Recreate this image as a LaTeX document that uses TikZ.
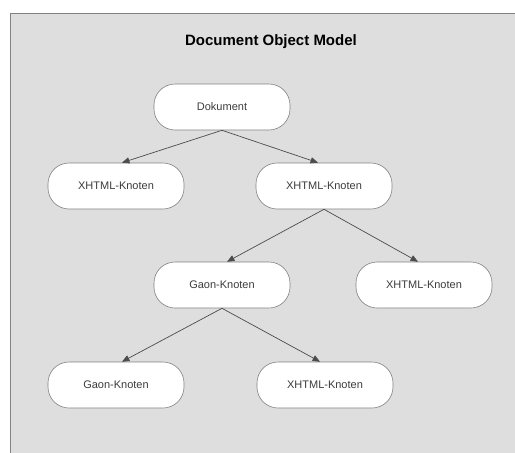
\documentclass[tikz,border=0pt]{standalone}
\usepackage{fontspec}
\setmainfont{Liberation Sans}
\usetikzlibrary{arrows}
\definecolor{panelgray}{RGB}{222,222,222}
\definecolor{framegray}{RGB}{130,130,130}
\definecolor{textgray}{RGB}{60,60,60}

\begin{document}
\begin{tikzpicture}[x=1pt,y=1pt]
  \tikzstyle{knoten}=[draw=framegray,fill=white,line width=0.6pt,rectangle,
    rounded corners=21pt,minimum width=136pt,minimum height=46pt,
    text=textgray,font=\fontsize{11}{13}\selectfont]
  \tikzstyle{kante}=[-triangle 45,draw=black!70,line width=0.7pt]

  \useasboundingbox (0,0) rectangle (515,-453);
  \fill[white] (0,0) rectangle (515,-453);
  \filldraw[fill=panelgray,draw=framegray,line width=0.8pt] (10,-13) rectangle (518,-456);

  \node [font=\fontsize{15}{17}\selectfont\bfseries] (titel) at (271,-42) {Document Object Model};

  \node [knoten] (dok) at (222,-107) {Dokument};
  \node [knoten] (xa) at (116,-186) {XHTML-Knoten};
  \node [knoten] (xb) at (324,-186) {XHTML-Knoten};
  \node [knoten] (ga) at (222,-285) {Gaon-Knoten};
  \node [knoten] (xc) at (424,-285) {XHTML-Knoten};
  \node [knoten] (gb) at (116,-385) {Gaon-Knoten};
  \node [knoten] (xd) at (325,-385) {XHTML-Knoten};

  \draw [kante] (dok.south) -- ([xshift=6pt]xa.north);
  \draw [kante] (dok.south) -- ([xshift=-6pt]xb.north);
  \draw [kante] (xb.south) -- ([xshift=5pt]ga.north);
  \draw [kante] (xb.south) -- ([xshift=-6pt]xc.north);
  \draw [kante] (ga.south) -- ([xshift=6pt]gb.north);
  \draw [kante] (ga.south) -- ([xshift=-5pt]xd.north);
\end{tikzpicture}
\end{document}
